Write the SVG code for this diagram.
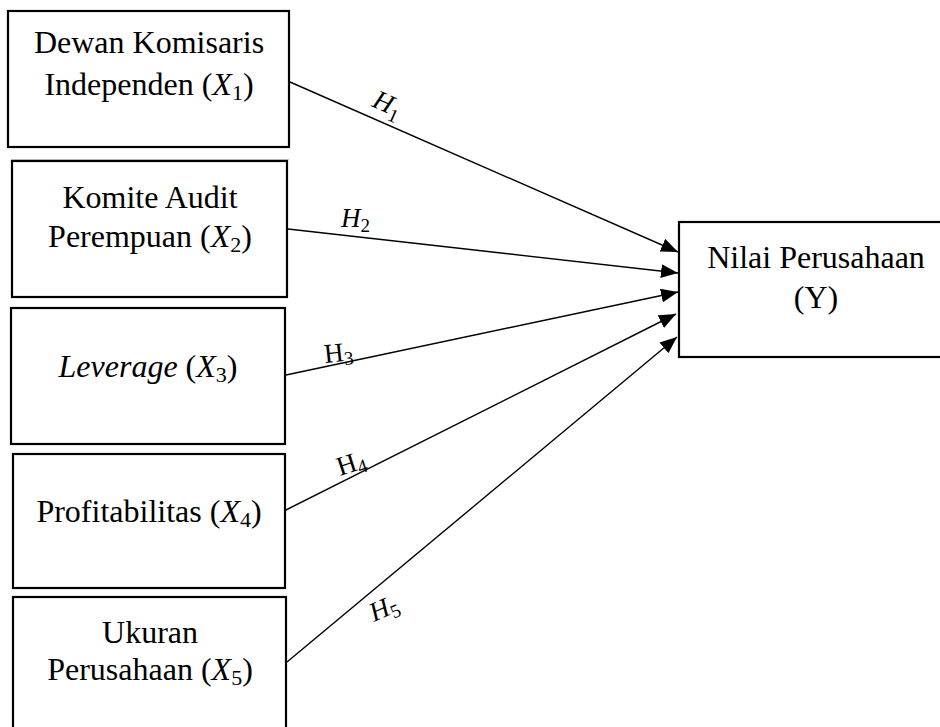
<svg xmlns="http://www.w3.org/2000/svg" width="940" height="727" viewBox="0 0 940 727">
<style>
.box{fill:#fff;stroke:#000;stroke-width:2.2}
.t{font-family:"Liberation Serif","Times New Roman",serif;font-size:32px;fill:#000;text-anchor:middle}
.h{font-family:"Liberation Serif","Times New Roman",serif;font-size:27px;fill:#000}
.edge{stroke:#000;stroke-width:1.4;fill:none;marker-end:url(#ah)}
</style>
<defs>
<marker id="ah" markerUnits="userSpaceOnUse" markerWidth="18" markerHeight="14" refX="17" refY="7" orient="auto">
<path d="M0,0 L17,7 L0,14 z" fill="#000"/>
</marker>
</defs>
<rect width="940" height="727" fill="#fff"/>
<line x1="11" y1="159.5" x2="289" y2="159.5" stroke="#c8c8c8" stroke-width="1"/>
<g id="x1">
<rect class="box" x="8" y="11" width="281" height="136"/>
<text class="t" x="149" y="53">Dewan Komisaris</text>
<text class="t" x="149" y="95">Independen (<tspan font-style="italic">X</tspan><tspan font-size="22" dy="5">1</tspan><tspan dy="-5">)</tspan></text>
</g>
<g id="x2">
<rect class="box" x="12" y="161" width="275" height="136"/>
<text class="t" x="150" y="208">Komite Audit</text>
<text class="t" x="150" y="247">Perempuan (<tspan font-style="italic">X</tspan><tspan font-size="22" dy="5">2</tspan><tspan dy="-5">)</tspan></text>
</g>
<g id="x3">
<rect class="box" x="11" y="308" width="274" height="136"/>
<text class="t" x="148" y="377"><tspan font-style="italic">Leverage</tspan> (<tspan font-style="italic">X</tspan><tspan font-size="22" dy="5">3</tspan><tspan dy="-5">)</tspan></text>
</g>
<g id="x4">
<rect class="box" x="13" y="454" width="272" height="134"/>
<text class="t" x="149" y="522">Profitabilitas (<tspan font-style="italic">X</tspan><tspan font-size="22" dy="5">4</tspan><tspan dy="-5">)</tspan></text>
</g>
<g id="x5">
<rect class="box" x="13" y="597" width="273" height="140"/>
<text class="t" x="150" y="643">Ukuran</text>
<text class="t" x="150" y="680">Perusahaan (<tspan font-style="italic">X</tspan><tspan font-size="22" dy="5">5</tspan><tspan dy="-5">)</tspan></text>
</g>
<g id="y">
<rect class="box" x="679" y="222" width="270" height="135"/>
<text class="t" x="816" y="268">Nilai Perusahaan</text>
<text class="t" x="816" y="308">(Y)</text>
</g>
<g id="connectors">
<line class="edge" x1="290" y1="82" x2="678" y2="252"/>
<line class="edge" x1="288" y1="229" x2="678" y2="273"/>
<line class="edge" x1="286" y1="375" x2="678" y2="292"/>
<line class="edge" x1="286" y1="510" x2="676" y2="314"/>
<line class="edge" x1="287" y1="662" x2="677" y2="337"/>
</g>
<g id="labels">
<text class="h" x="371" y="106" transform="rotate(24 371 106)"><tspan font-style="italic">H</tspan><tspan font-size="19" dy="6">1</tspan></text>
<text class="h" x="341" y="227"><tspan font-style="italic">H</tspan><tspan font-size="19" dy="5">2</tspan></text>
<text class="h" x="325" y="363" transform="rotate(-6 325 363)">H<tspan font-size="19" dy="4">3</tspan></text>
<text class="h" x="340" y="476" transform="rotate(-18 340 476)">H<tspan font-size="19" dy="4">4</tspan></text>
<text class="h" x="374" y="622" transform="rotate(-24 374 622)"><tspan font-style="italic">H</tspan><tspan font-size="19" dy="5">5</tspan></text>
</g>
</svg>
